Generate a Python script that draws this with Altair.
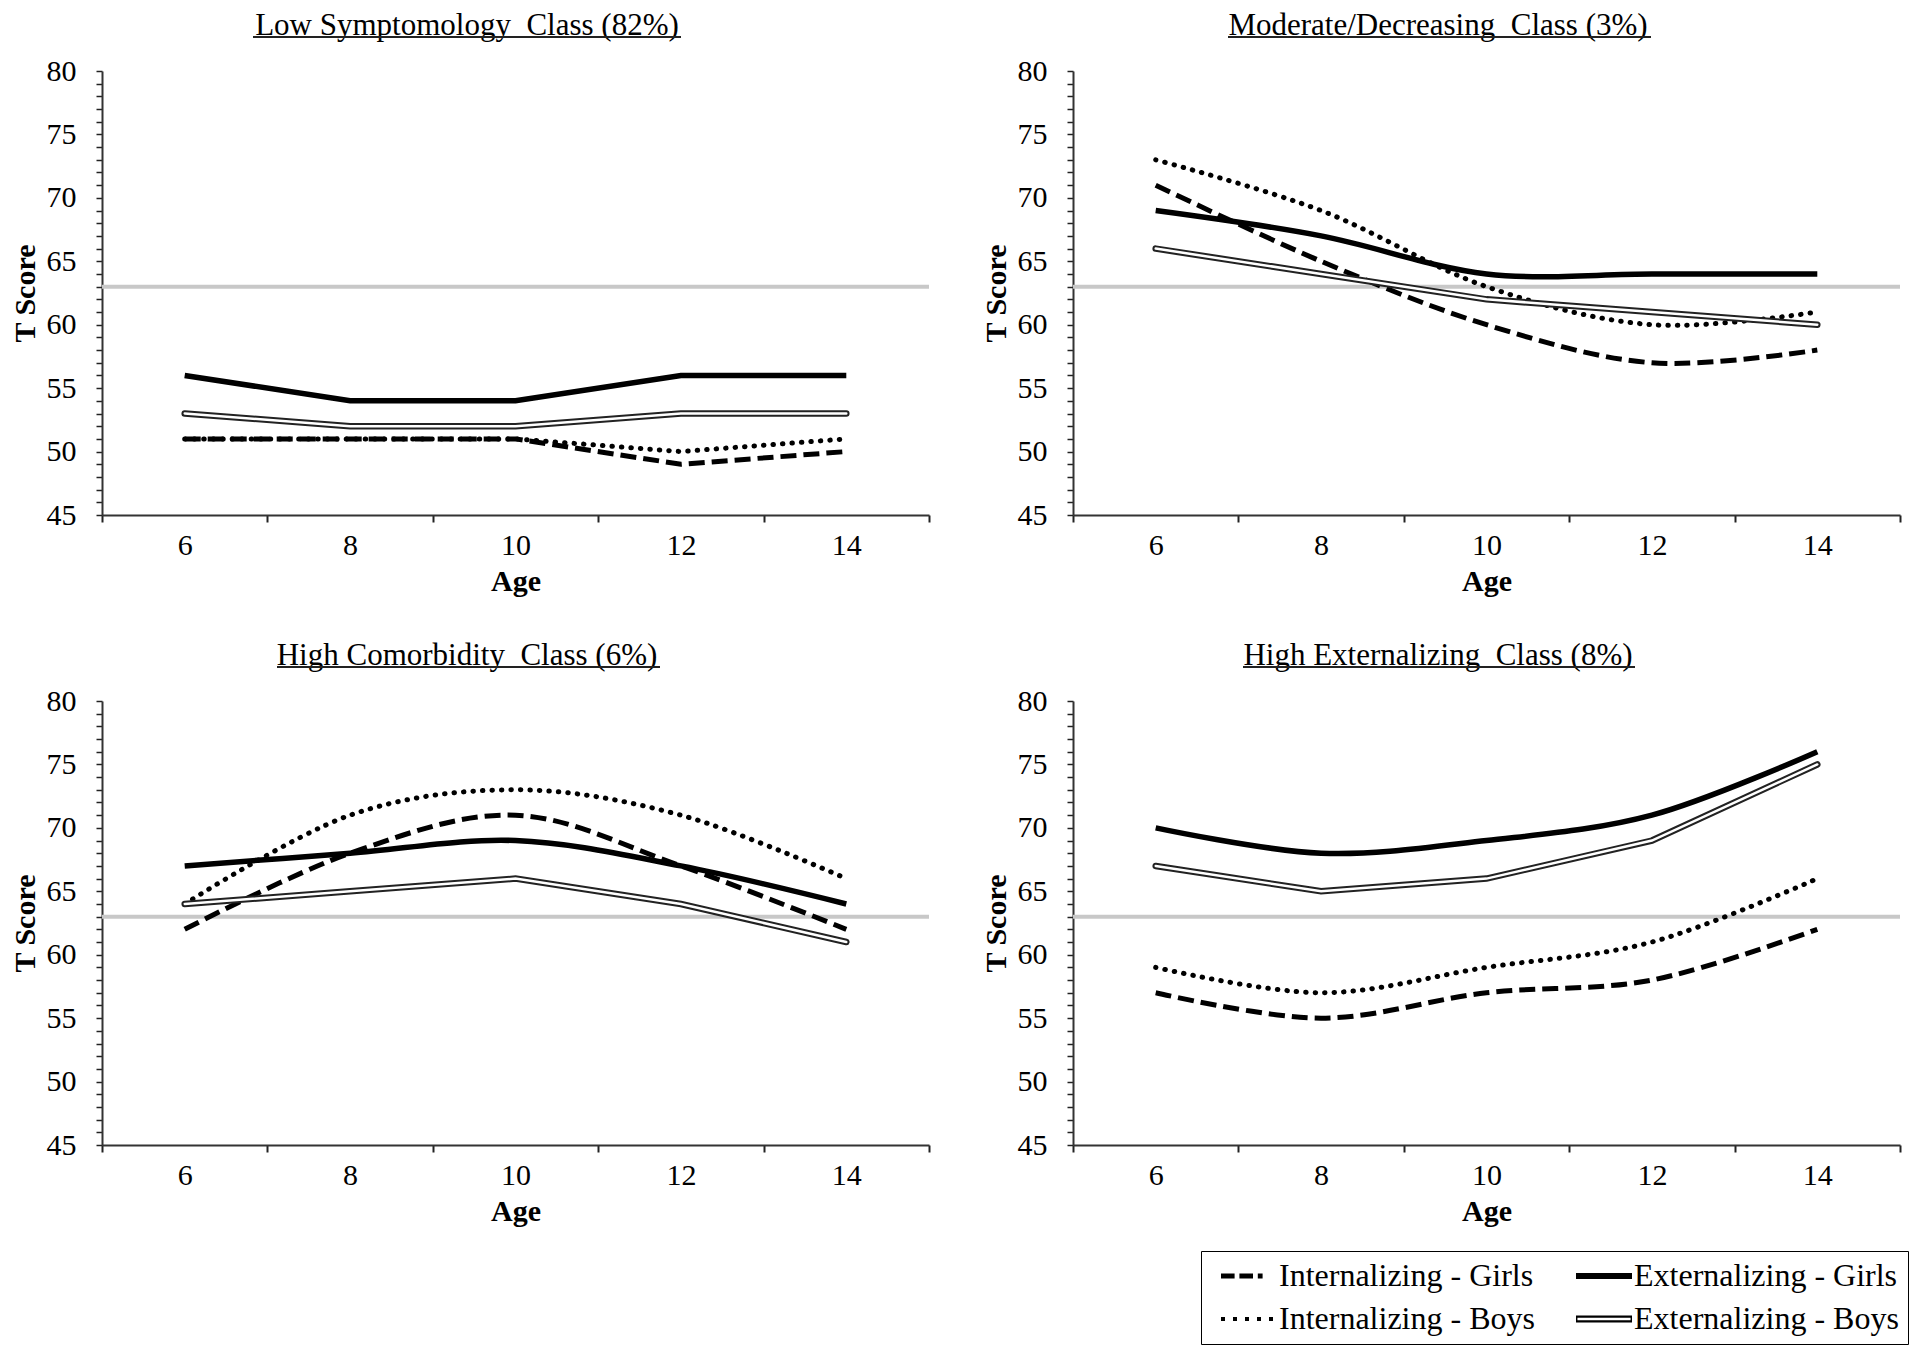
import altair as alt
import pandas as pd

# ---------------- data ----------------
AGES = [6, 8, 10, 12, 14]
SERIES = ["Internalizing - Girls", "Externalizing - Girls",
          "Internalizing - Boys", "Externalizing - Boys"]
PANEL_TITLES = ["Low Symptomology\u00a0 Class (82%)",
                "Moderate/Decreasing\u00a0 Class (3%)",
                "High Comorbidity\u00a0 Class (6%)",
                "High Externalizing\u00a0 Class (8%)"]

LOW_INT_GIRLS = [51, 51, 51, 49, 50]
LOW_EXT_GIRLS = [56, 54, 54, 56, 56]
LOW_INT_BOYS = [51, 51, 51, 50, 51]
LOW_EXT_BOYS = [53, 52, 52, 53, 53]

MOD_INT_GIRLS = [71, 65, 60, 57, 58]
MOD_EXT_GIRLS = [69, 67, 64, 64, 64]
MOD_INT_BOYS = [73, 69, 63, 60, 61]
MOD_EXT_BOYS = [66, 64, 62, 61, 60]

COM_INT_GIRLS = [62, 68, 71, 67, 62]
COM_EXT_GIRLS = [67, 68, 69, 67, 64]
COM_INT_BOYS = [64, 71, 73, 71, 66]
COM_EXT_BOYS = [64, 65, 66, 64, 61]

EXT_INT_GIRLS = [57, 55, 57, 58, 62]
EXT_EXT_GIRLS = [70, 68, 69, 71, 76]
EXT_INT_BOYS = [59, 57, 59, 61, 66]
EXT_EXT_BOYS = [67, 65, 66, 69, 75]

CLINICAL_CUTOFF = 63

PANELS = [
    [LOW_INT_GIRLS, LOW_EXT_GIRLS, LOW_INT_BOYS, LOW_EXT_BOYS],
    [MOD_INT_GIRLS, MOD_EXT_GIRLS, MOD_INT_BOYS, MOD_EXT_BOYS],
    [COM_INT_GIRLS, COM_EXT_GIRLS, COM_INT_BOYS, COM_EXT_BOYS],
    [EXT_INT_GIRLS, EXT_EXT_GIRLS, EXT_INT_BOYS, EXT_EXT_BOYS],
]

# ---------------- styles ----------------
FONT = "Liberation Serif"
W, H = 827, 444
SMOOTH = [
    [False, False, False, False],
    [True, True, True, False],
    [True, True, True, False],
    [True, True, True, False],
]
UNDERLINE = [(151, 579), (155, 578), (175, 558), (170, 562)]
TITLE_X = 365

# legend symbols: drawn in a box where +-1 = 16 px, extended to +-1.75 (56 px wide)
LEGEND_PATHS = [
    "M-1.75,-0.16H-0.9V0.16H-1.75Z M-0.6,-0.16H0.25V0.16H-0.6Z M0.55,-0.16H0.85V0.16H0.55Z",
    "M-1.75,-0.18H1.75V0.18H-1.75Z",
    "M-1.75,-0.13H-1.5V0.13H-1.75Z M-1.0,-0.13H-0.75V0.13H-1.0Z "
    "M-0.25,-0.13H0V0.13H-0.25Z M0.5,-0.13H0.75V0.13H0.5Z "
    "M1.25,-0.13H1.5V0.13H1.25Z",
    "M-1.75,-0.22H1.75V0.22H-1.75Z M-1.66,-0.08V0.08H1.66V-0.08Z",
]

x_axis = alt.Axis(
    values=list(range(5, 16)),
    labelExpr="datum.value % 2 == 0 ? datum.label : ''",
    tickColor={"condition": {"test": "datum.value % 2 == 1", "value": "#222222"},
               "value": "transparent"},
    tickSize=7, tickWidth=2, domainColor="#333333", domainWidth=2,
    labelFont=FONT, labelFontSize=30, labelColor="black", labelPadding=8,
    labelOverlap=False, labelFlush=False, grid=False,
    title="Age", titleFont=FONT, titleFontSize=30, titleFontWeight="bold",
    titleColor="black", titlePadding=6,
)
y_axis = alt.Axis(
    values=list(range(45, 81)),
    labelExpr="datum.value % 5 == 0 ? datum.label : ''",
    tickSize=6, tickWidth=1.5, tickColor="#222222",
    domainColor="#333333", domainWidth=2,
    labelFont=FONT, labelFontSize=30, labelColor="black", labelPadding=20,
    labelOverlap=False, grid=False,
    title="T Score", titleFont=FONT, titleFontSize=30, titleFontWeight="bold",
    titleColor="black", titlePadding=6,
)
X = alt.X("age:Q", scale=alt.Scale(domain=[5, 15], nice=False, zero=False), axis=x_axis)
Y = alt.Y("score:Q", scale=alt.Scale(domain=[45, 80], nice=False, zero=False), axis=y_axis)


def series_layers(df, name, smooth):
    interp = "cardinal" if smooth else "linear"
    base = alt.Chart(df[df.series == name])
    if name == "Internalizing - Girls":
        return [base.mark_line(interpolate=interp, color="black", strokeWidth=5,
                               strokeDash=[16, 7]).encode(x=X, y=Y)]
    if name == "Externalizing - Girls":
        return [base.mark_line(interpolate=interp, color="black", strokeWidth=5.5).encode(x=X, y=Y)]
    if name == "Internalizing - Boys":
        return [base.mark_line(interpolate=interp, color="black", strokeWidth=5,
                               strokeDash=[0.5, 9], strokeCap="round").encode(x=X, y=Y)]
    return [
        base.mark_line(interpolate=interp, color="#222222", strokeWidth=6.5,
                       strokeCap="round").encode(x=X, y=Y),
        base.mark_line(interpolate=interp, color="white", strokeWidth=2.5,
                       strokeCap="round").encode(x=X, y=Y),
    ]


def panel(i):
    rows = []
    for s, vals in zip(SERIES, PANELS[i]):
        for a, v in zip(AGES, vals):
            rows.append({"age": a, "score": v, "series": s})
    df = pd.DataFrame(rows)

    layers = []
    layers.append(
        alt.Chart(pd.DataFrame({"c": [CLINICAL_CUTOFF]}))
        .mark_rule(color="#c8c8c8", strokeWidth=4)
        .encode(y=alt.Y("c:Q", scale=alt.Scale(domain=[45, 80], nice=False, zero=False), axis=y_axis))
    )
    for s, sm in zip(SERIES, SMOOTH[i]):
        layers.extend(series_layers(df, s, sm))

    layers.append(
        alt.Chart(pd.DataFrame({"t": [PANEL_TITLES[i]]}))
        .mark_text(font=FONT, fontSize=31, color="black", align="center", baseline="alphabetic")
        .encode(text="t:N", x=alt.value(TITLE_X), y=alt.value(-36))
    )
    u0, u1 = UNDERLINE[i]
    layers.append(
        alt.Chart(pd.DataFrame({"c": [0]}))
        .mark_rule(color="#222222", strokeWidth=2)
        .encode(x=alt.value(u0), x2=alt.value(u1), y=alt.value(-34))
    )
    if i == 0:
        layers.append(
            alt.Chart(pd.DataFrame({"series": SERIES}))
            .transform_filter("false")
            .mark_point(filled=True, opacity=1, color="black", size=1024)
            .encode(shape=alt.Shape(
                "series:N",
                scale=alt.Scale(domain=SERIES, range=LEGEND_PATHS),
                legend=alt.Legend(
                    title=None, orient="none", legendX=1099, legendY=1180,
                    direction="horizontal", columns=2, columnPadding=30, rowPadding=11,
                    labelFont=FONT, labelFontSize=32, labelColor="black",
                    labelOffset=14, labelLimit=500,
                    symbolSize=1024, symbolFillColor="black", symbolStrokeWidth=0,
                    symbolOpacity=1, symbolOffset=23,
                    strokeColor="black", fillColor="white", padding=9,
                ),
            ))
        )
    return alt.layer(*layers).properties(width=W, height=H)


chart = (
    alt.concat(*[panel(i) for i in range(4)], columns=2,
               spacing={"row": 186, "column": 144}, bounds="flush")
    .properties(padding={"left": 2, "top": 2, "right": 2, "bottom": 2}, background="white")
    .configure_view(stroke=None)
)

chart.save("out.html", embed_options={"renderer": "svg", "actions": False})
